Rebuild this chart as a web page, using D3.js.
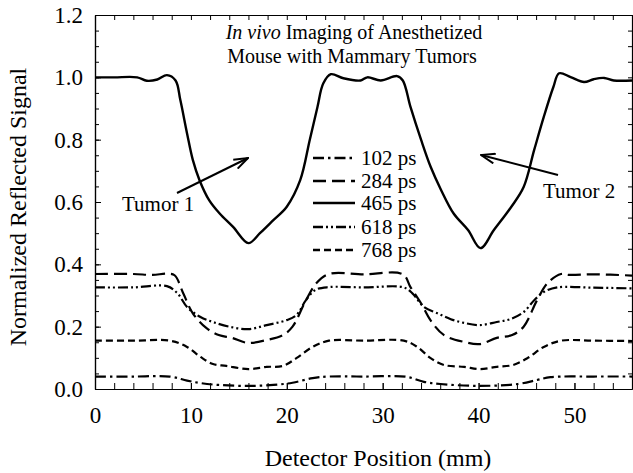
<!DOCTYPE html>
<html>
<head>
<meta charset="utf-8">
<script src="https://cdn.jsdelivr.net/npm/d3@7"></script>
<style>
  body { margin: 0; background: #fff; }
  svg text { font-family: "Liberation Serif", "Times New Roman", Times, "DejaVu Serif", serif; fill: #000; }
</style>
</head>
<body>
<script>
// detector position (mm), normalized reflected signal, one list per gate time
const s102 = [[0,0.04],[4,0.04],[7.8,0.04],[9.6,0.027],[11.0,0.019],[12.9,0.013],[16.0,0.01],[18.6,0.013],[20.6,0.02],[22.7,0.035],[24.4,0.04],[28,0.04],[32.5,0.039],[34.3,0.023],[36.0,0.016],[40.1,0.01],[44.1,0.016],[46.1,0.029],[47.5,0.038],[52,0.04],[56,0.04]]
const s284 = [[0,0.369],[4,0.369],[6,0.366],[7.5,0.37],[8.3,0.365],[9.2,0.307],[10.2,0.243],[11.6,0.196],[12.9,0.173],[14.3,0.164],[15.9,0.148],[17.9,0.157],[19.6,0.173],[20.6,0.2],[22.0,0.285],[23.1,0.34],[24.4,0.369],[28,0.368],[32.1,0.368],[32.9,0.327],[34.0,0.275],[35.0,0.22],[36.4,0.173],[38.5,0.151],[40.1,0.144],[41.9,0.164],[43.5,0.173],[44.7,0.2],[46.1,0.285],[47.2,0.34],[48.6,0.369],[49.5,0.366],[52,0.368],[56,0.364]]
const s465 = [[0,1.0],[2,1.0],[4.4,1.0],[5.4,0.989],[6.5,0.993],[7.5,1.007],[8.4,0.99],[8.9,0.927],[9.6,0.82],[10.2,0.735],[10.9,0.67],[11.9,0.606],[13.0,0.563],[14.4,0.52],[16.0,0.468],[17.2,0.5],[18.6,0.542],[20.0,0.585],[21.4,0.67],[22.4,0.8],[23.2,0.905],[23.8,0.98],[24.6,1.01],[25.9,0.997],[27.7,0.99],[28.4,1.0],[29.8,0.99],[31.5,1.004],[32.1,0.99],[32.9,0.905],[34.0,0.8],[35.0,0.713],[36.1,0.638],[37.4,0.563],[38.9,0.51],[40.2,0.452],[41.6,0.51],[43.4,0.584],[44.7,0.648],[45.8,0.767],[46.8,0.873],[47.8,0.969],[48.4,1.013],[49.6,1.001],[51.0,0.985],[52.0,0.994],[53.1,0.998],[54.1,0.99],[56,0.99]]
const s618 = [[0,0.326],[4,0.326],[7.5,0.33],[8.6,0.307],[9.6,0.263],[11.0,0.231],[12.3,0.215],[14.0,0.2],[16.0,0.192],[17.9,0.205],[20.0,0.221],[21.0,0.237],[22.0,0.285],[23.0,0.318],[24.4,0.327],[28,0.326],[32.2,0.326],[33.1,0.307],[34.3,0.263],[35.7,0.243],[37.1,0.224],[38.5,0.212],[40.1,0.205],[41.9,0.215],[43.3,0.224],[44.7,0.247],[45.8,0.285],[46.8,0.311],[48.2,0.326],[52,0.325],[56,0.323]]
const s768 = [[0,0.155],[4,0.155],[7.8,0.155],[9.6,0.135],[11.0,0.103],[12.3,0.08],[13.7,0.074],[16.0,0.064],[17.9,0.071],[19.6,0.074],[21.0,0.099],[22.7,0.135],[24.4,0.155],[28,0.155],[32.2,0.155],[33.6,0.135],[35.0,0.099],[36.4,0.077],[38.5,0.071],[40.1,0.064],[41.9,0.071],[43.6,0.077],[45.1,0.099],[46.8,0.135],[48.6,0.155],[52,0.155],[56,0.154]]

const seriesNames = ['102 ps', '284 ps', '465 ps', '618 ps', '768 ps']
const seriesData = [s102, s284, s465, s618, s768]
const dashes = ['11,4,2.5,4', '13,6', null, '10,3,2,3,2,3', '7,4']

const xTicks = [0, 10, 20, 30, 40, 50]
const yTicks = [0.0, 0.2, 0.4, 0.6, 0.8, 1.0, 1.2]

const w = 633
const h = 473
const pLeft = 95, pRight = 632, pTop = 15, pBottom = 389
const serif = '"Liberation Serif", "Times New Roman", Times, "DejaVu Serif", serif'

const svg = d3.select('body').append('svg')
  .attr('width', w)
  .attr('height', h)

const x = d3.scaleLinear().domain([0, 56]).range([pLeft, pRight])
const y = d3.scaleLinear().domain([0, 1.2]).range([pBottom, pTop])

function styleAxis(g) {
  g.attr('font-family', serif)
  g.select('.domain').attr('stroke', '#000').attr('stroke-width', 1.2)
  g.selectAll('.tick line').attr('stroke', '#000').attr('stroke-width', 1)
  g.selectAll('text').style('font-size', '23px').style('font-family', serif).attr('fill', '#000')
}

// minor ticks
const xMinor = d3.range(0, 56.01, 2)
const yMinor = d3.range(0, 1.201, 0.05)

svg.append('g')
  .attr('transform', 'translate(0,' + pBottom + ')')
  .call(d3.axisBottom(x).tickValues(xMinor).tickSize(-6).tickSizeOuter(0).tickFormat(''))
  .call(styleAxis)
svg.append('g')
  .attr('transform', 'translate(0,' + pBottom + ')')
  .call(d3.axisBottom(x).tickValues(xTicks).tickSize(-6).tickSizeOuter(0).tickPadding(18).tickFormat(d3.format('d')))
  .call(styleAxis)
svg.append('g')
  .attr('transform', 'translate(0,' + pTop + ')')
  .call(d3.axisTop(x).tickValues(xMinor).tickSize(-5).tickSizeOuter(0).tickFormat(''))
  .call(styleAxis)

svg.append('g')
  .attr('transform', 'translate(' + pLeft + ',0)')
  .call(d3.axisLeft(y).tickValues(yMinor).tickSize(-4).tickSizeOuter(0).tickFormat(''))
  .call(styleAxis)
svg.append('g')
  .attr('transform', 'translate(' + pLeft + ',0)')
  .call(d3.axisLeft(y).tickValues(yTicks).tickSize(-6).tickSizeOuter(0).tickPadding(12).tickFormat(d3.format('.1f')))
  .call(styleAxis)
svg.append('g')
  .attr('transform', 'translate(' + pRight + ',0)')
  .call(d3.axisRight(y).tickValues(yMinor).tickSize(-4).tickSizeOuter(0).tickFormat(''))
  .call(styleAxis)

// curves
const line = d3.line()
  .x(d => x(d[0]))
  .y(d => y(d[1]))
  .curve(d3.curveCatmullRom.alpha(0.5))

svg.selectAll('.curve')
  .data(seriesData)
  .enter()
  .append('path')
  .attr('class', 'curve')
  .attr('d', d => line(d))
  .attr('fill', 'none')
  .attr('stroke', '#000')
  .attr('stroke-width', (d, i) => i == 2 ? 2.4 : 2.2)
  .attr('stroke-dasharray', (d, i) => dashes[i])

// legend
const legendY = [158, 181, 203, 227, 250]
const leg = svg.selectAll('.leg')
  .data(seriesNames)
  .enter()
  .append('g')
  .attr('class', 'leg')
  .attr('transform', (d, i) => 'translate(0,' + legendY[i] + ')')
leg.append('line')
  .attr('x1', 313).attr('x2', 355)
  .attr('y1', 0).attr('y2', 0)
  .attr('stroke', '#000')
  .attr('stroke-width', (d, i) => i == 2 ? 2.6 : 2.4)
  .attr('stroke-dasharray', (d, i) => dashes[i])
leg.append('text')
  .attr('x', 361)
  .attr('y', 7)
  .style('font-size', '21px')
  .text(d => d)

// title
const title = svg.append('text')
  .attr('x', 354)
  .attr('y', 39)
  .attr('text-anchor', 'middle')
  .style('font-size', '20px')
title.append('tspan').style('font-style', 'italic').text('In vivo')
title.append('tspan').text(' Imaging of Anesthetized')
svg.append('text')
  .attr('x', 352)
  .attr('y', 63)
  .attr('text-anchor', 'middle')
  .style('font-size', '20px')
  .text('Mouse with Mammary Tumors')

// tumor annotations
svg.append('defs').append('marker')
  .attr('id', 'arr')
  .attr('markerUnits', 'userSpaceOnUse')
  .attr('viewBox', '0 0 16 12')
  .attr('refX', 15).attr('refY', 6)
  .attr('markerWidth', 16).attr('markerHeight', 12)
  .attr('orient', 'auto')
  .append('path')
  .attr('d', 'M1,1 L15,6 L1,11')
  .attr('fill', 'none')
  .attr('stroke', '#000')
  .attr('stroke-width', 2)

const notes = [
  { label: 'Tumor 1', tx: 122, ty: 211, from: [177, 193], to: [248, 158] },
  { label: 'Tumor 2', tx: 543, ty: 198, from: [558, 175], to: [481, 155] }
]
notes.forEach(n => {
  svg.append('text')
    .attr('x', n.tx).attr('y', n.ty)
    .style('font-size', '21px')
    .text(n.label)
  svg.append('line')
    .attr('x1', n.from[0]).attr('y1', n.from[1])
    .attr('x2', n.to[0]).attr('y2', n.to[1])
    .attr('stroke', '#000')
    .attr('stroke-width', 2)
    .attr('marker-end', 'url(#arr)')
})

// axis titles
svg.append('text')
  .attr('x', 378)
  .attr('y', 466)
  .attr('text-anchor', 'middle')
  .style('font-size', '24px')
  .text('Detector Position (mm)')
svg.append('text')
  .attr('transform', 'translate(26,207) rotate(-90)')
  .attr('text-anchor', 'middle')
  .style('font-size', '24px')
  .text('Normalized Reflected Signal')
</script>
</body>
</html>
